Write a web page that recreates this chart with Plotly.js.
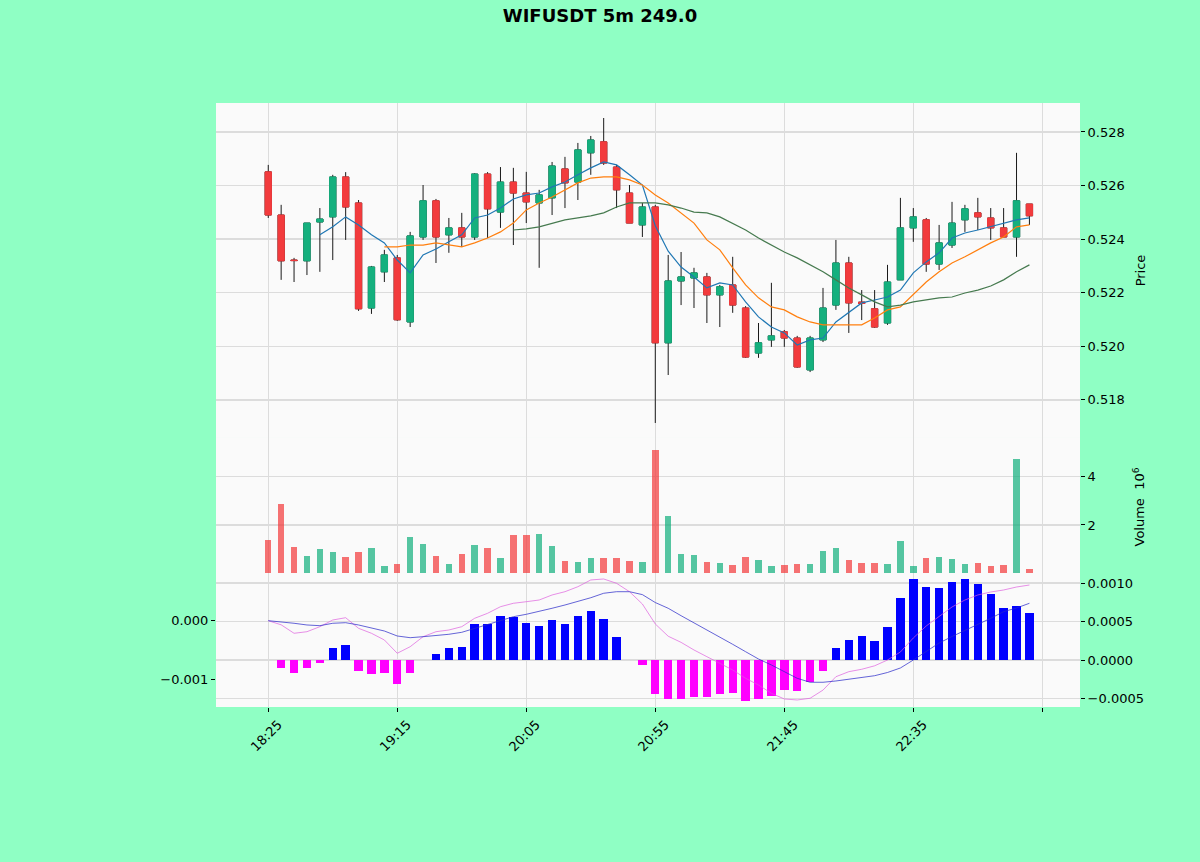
<!DOCTYPE html>
<html><head><meta charset="utf-8">
<script src="https://cdn.plot.ly/plotly-3.0.1.min.js"></script>
<style>html,body{margin:0;padding:0;background:#8fffc4;}</style>
</head><body>
<div id="chart" style="width:1200px;height:862px;"></div>
<script>
const times = ["18:25","18:30","18:35","18:40","18:45","18:50","18:55","19:00","19:05","19:10",
"19:15","19:20","19:25","19:30","19:35","19:40","19:45","19:50","19:55","20:00",
"20:05","20:10","20:15","20:20","20:25","20:30","20:35","20:40","20:45","20:50",
"20:55","21:00","21:05","21:10","21:15","21:20","21:25","21:30","21:35","21:40",
"21:45","21:50","21:55","22:00","22:05","22:10","22:15","22:20","22:25","22:30",
"22:35","22:40","22:45","22:50","22:55","23:00","23:05","23:10","23:15","23:20"];
const tickLabels = ["18:25","19:15","20:05","20:55","21:45","22:35"];

const opens = [0.52651,0.52490,0.52322,0.52319,0.52464,0.52483,0.52632,0.52535,0.52143,0.52278,
0.52330,0.52091,0.52408,0.52543,0.52416,0.52442,0.52408,0.52643,0.52501,0.52613,
0.52572,0.52535,0.52554,0.52662,0.52613,0.52722,0.52763,0.52669,0.52572,0.52453,
0.52520,0.52013,0.52244,0.52255,0.52259,0.52192,0.52229,0.52143,0.51975,0.52024,
0.52054,0.52031,0.51912,0.52024,0.52154,0.52311,0.52165,0.52140,0.52087,0.52248,
0.52442,0.52472,0.52307,0.52378,0.52472,0.52498,0.52479,0.52442,0.52408,0.52531];
const highs = [0.52677,0.52528,0.52330,0.52460,0.52516,0.52640,0.52650,0.52546,0.52300,0.52360,
0.52341,0.52427,0.52602,0.52550,0.52479,0.52498,0.52646,0.52650,0.52669,0.52666,
0.52651,0.52584,0.52688,0.52707,0.52759,0.52785,0.52852,0.52677,0.52602,0.52535,
0.52528,0.52341,0.52352,0.52293,0.52274,0.52229,0.52334,0.52150,0.52087,0.52237,
0.52061,0.52039,0.52039,0.52218,0.52397,0.52334,0.52210,0.52210,0.52304,0.52554,
0.52516,0.52479,0.52453,0.52539,0.52528,0.52554,0.52516,0.52516,0.52722,0.52531];
const lows = [0.52479,0.52248,0.52240,0.52266,0.52278,0.52322,0.52397,0.52132,0.52121,0.52240,
0.52095,0.52072,0.52397,0.52311,0.52349,0.52371,0.52397,0.52404,0.52442,0.52378,
0.52460,0.52293,0.52490,0.52516,0.52546,0.52640,0.52677,0.52516,0.52460,0.52408,
0.51714,0.51893,0.52154,0.52143,0.52087,0.52072,0.52125,0.51957,0.51957,0.51998,
0.51998,0.51920,0.51904,0.52016,0.52136,0.52050,0.52098,0.52069,0.52080,0.52248,
0.52390,0.52278,0.52285,0.52367,0.52427,0.52434,0.52397,0.52408,0.52334,0.52453];
const closes = [0.52490,0.52319,0.52320,0.52460,0.52475,0.52632,0.52520,0.52140,0.52296,0.52341,
0.52099,0.52412,0.52543,0.52408,0.52442,0.52408,0.52643,0.52513,0.52613,0.52572,
0.52539,0.52565,0.52673,0.52610,0.52733,0.52770,0.52684,0.52584,0.52460,0.52520,
0.52013,0.52244,0.52259,0.52274,0.52192,0.52222,0.52154,0.51960,0.52013,0.52039,
0.52031,0.51923,0.52031,0.52143,0.52311,0.52162,0.52160,0.52072,0.52240,0.52442,
0.52483,0.52307,0.52386,0.52460,0.52513,0.52483,0.52442,0.52408,0.52543,0.52487];
const volumes = [1380000,2870000,1100000,720000,1010000,880000,660000,880000,1030000,300000,
370000,1490000,1200000,720000,370000,800000,1170000,1030000,620000,1590000,
1600000,1640000,1130000,500000,450000,620000,620000,620000,520000,480000,
5100000,2370000,800000,760000,480000,440000,340000,660000,550000,320000,
340000,380000,380000,920000,1030000,550000,440000,440000,380000,1340000,
320000,620000,660000,590000,380000,440000,300000,340000,4730000,190000];

const mav5 = [null,null,null,null,0.52416,0.52446,0.52483,0.52453,0.52416,0.52386,
0.52322,0.52274,0.52341,0.52363,0.52390,0.52416,0.52479,0.52490,0.52516,0.52550,
0.52565,0.52572,0.52595,0.52613,0.52640,0.52666,0.52688,0.52677,0.52640,0.52602,
0.52450,0.52355,0.52296,0.52259,0.52218,0.52237,0.52229,0.52166,0.52110,0.52072,
0.52050,0.52005,0.52024,0.52031,0.52091,0.52125,0.52162,0.52173,0.52184,0.52210,
0.52274,0.52315,0.52349,0.52404,0.52423,0.52434,0.52446,0.52460,0.52472,0.52479];
const mav10 = [null,null,null,null,null,null,null,null,null,0.52371,
0.52371,0.52378,0.52378,0.52386,0.52378,0.52371,0.52386,0.52404,0.52427,0.52460,
0.52509,0.52535,0.52557,0.52584,0.52610,0.52628,0.52632,0.52632,0.52621,0.52602,
0.52565,0.52535,0.52498,0.52460,0.52397,0.52360,0.52293,0.52229,0.52181,0.52147,
0.52136,0.52110,0.52091,0.52080,0.52080,0.52080,0.52080,0.52106,0.52136,0.52147,
0.52192,0.52240,0.52278,0.52311,0.52334,0.52360,0.52386,0.52408,0.52446,0.52453];
const mav20 = [null,null,null,null,null,null,null,null,null,null,
null,null,null,null,null,null,null,null,null,0.52434,
0.52438,0.52446,0.52460,0.52472,0.52479,0.52487,0.52498,0.52520,0.52535,0.52535,
0.52535,0.52528,0.52516,0.52501,0.52498,0.52483,0.52460,0.52434,0.52404,0.52378,
0.52352,0.52330,0.52304,0.52278,0.52248,0.52218,0.52192,0.52166,0.52147,0.52154,
0.52166,0.52173,0.52181,0.52184,0.52199,0.52210,0.52225,0.52248,0.52278,0.52304];

const macdLine = [0,-0.70e-4,-2.15e-4,-1.88e-4,-1.02e-4,0.12e-4,0.51e-4,-1.30e-4,-2.15e-4,-3.29e-4,
-5.56e-4,-4.44e-4,-2.73e-4,-1.88e-4,-1.59e-4,-1.02e-4,0.41e-4,1.26e-4,2.39e-4,2.97e-4,
3.24e-4,3.53e-4,4.39e-4,4.95e-4,5.80e-4,6.95e-4,7.12e-4,6.38e-4,4.95e-4,2.85e-4,
-0.56e-4,-2.65e-4,-3.70e-4,-5.00e-4,-6.14e-4,-7.27e-4,-8.41e-4,-9.83e-4,-10.97e-4,-12.39e-4,
-13.36e-4,-13.53e-4,-13.24e-4,-11.84e-4,-9.56e-4,-8.70e-4,-8.29e-4,-7.70e-4,-6.71e-4,-5.34e-4,
-2.95e-4,-0.90e-4,0.80e-4,2.34e-4,3.53e-4,4.39e-4,4.90e-4,5.24e-4,5.75e-4,6.09e-4];
const signalLine = [0,-0.17e-4,-0.44e-4,-0.73e-4,-0.85e-4,-0.44e-4,-0.34e-4,-0.73e-4,-1.19e-4,-1.76e-4,
-2.61e-4,-2.90e-4,-2.73e-4,-2.56e-4,-2.32e-4,-1.98e-4,-1.30e-4,-0.61e-4,0.12e-4,0.68e-4,
1.09e-4,1.54e-4,2.12e-4,2.68e-4,3.24e-4,3.92e-4,4.68e-4,4.95e-4,4.95e-4,4.45e-4,
3.10e-4,2.12e-4,0.85e-4,-0.34e-4,-1.59e-4,-2.83e-4,-4.03e-4,-5.29e-4,-6.54e-4,-7.56e-4,
-8.70e-4,-9.83e-4,-10.51e-4,-10.51e-4,-10.29e-4,-10.00e-4,-9.73e-4,-9.39e-4,-8.84e-4,-8.07e-4,
-6.71e-4,-5.29e-4,-3.81e-4,-2.70e-4,-1.67e-4,-0.73e-4,0.41e-4,1.54e-4,2.17e-4,2.97e-4];
const histogram = [0,-1.00e-4,-1.65e-4,-1.00e-4,-0.43e-4,1.52e-4,1.95e-4,-1.39e-4,-1.86e-4,-1.73e-4,
-3.07e-4,-1.65e-4,-0.05e-4,0.78e-4,1.52e-4,1.69e-4,4.63e-4,4.63e-4,5.71e-4,5.54e-4,
4.76e-4,4.42e-4,5.19e-4,4.68e-4,5.71e-4,6.36e-4,5.37e-4,2.99e-4,-0.05e-4,-0.65e-4,
-4.42e-4,-5.06e-4,-5.10e-4,-4.85e-4,-4.76e-4,-4.42e-4,-4.33e-4,-5.32e-4,-5.10e-4,-4.63e-4,
-3.90e-4,-3.98e-4,-2.90e-4,-1.39e-4,1.60e-4,2.60e-4,3.12e-4,2.51e-4,4.33e-4,8.10e-4,
10.50e-4,9.52e-4,9.39e-4,10.09e-4,10.50e-4,9.87e-4,8.57e-4,6.79e-4,7.05e-4,6.14e-4];

const UP = '#15b07e', DOWN = '#f23b3d';
const VUP = 'rgba(21,176,126,0.72)', VDOWN = 'rgba(242,59,61,0.72)';
const idx = times.map((t, i) => i);
const bodyHigh = opens.map((o, i) => Math.max(o, closes[i]));
const bodyLow = opens.map((o, i) => Math.min(o, closes[i]));

const traces = [
  {type:'candlestick', x:idx, open:opens, high:highs, low:lows, close:closes, xaxis:'x', yaxis:'y',
   increasing:{line:{color:'#1a1a1a', width:1}, fillcolor:UP},
   decreasing:{line:{color:'#1a1a1a', width:1}, fillcolor:DOWN}, whiskerwidth:0, hoverinfo:'skip', showlegend:false},
  {type:'candlestick', x:idx, open:opens, high:bodyHigh, low:bodyLow, close:closes, xaxis:'x', yaxis:'y',
   increasing:{line:{color:UP, width:1}, fillcolor:UP},
   decreasing:{line:{color:DOWN, width:1}, fillcolor:DOWN}, whiskerwidth:0, hoverinfo:'skip', showlegend:false},
  {type:'scatter', mode:'lines', x:idx, y:mav5, xaxis:'x', yaxis:'y', line:{color:'#1f77b4', width:1.2}, showlegend:false},
  {type:'scatter', mode:'lines', x:idx, y:mav10, xaxis:'x', yaxis:'y', line:{color:'#ff7f0e', width:1.2}, showlegend:false},
  {type:'scatter', mode:'lines', x:idx, y:mav20, xaxis:'x', yaxis:'y', line:{color:'#467a4f', width:1.2}, showlegend:false},
  {type:'bar', x:idx, y:volumes, xaxis:'x2', yaxis:'y2', width:0.5,
   marker:{color:closes.map((c, i) => c >= opens[i] ? VUP : VDOWN), line:{width:0}}, showlegend:false},
  {type:'bar', x:idx, y:histogram, xaxis:'x3', yaxis:'y3', width:0.65,
   marker:{color:histogram.map(v => v >= 0 ? '#0000ff' : '#ff00ff'), line:{width:0}}, showlegend:false},
  {type:'scatter', mode:'lines', x:idx, y:macdLine, xaxis:'x3', yaxis:'y4', line:{color:'rgba(220,90,220,0.75)', width:0.9}, showlegend:false},
  {type:'scatter', mode:'lines', x:idx, y:signalLine, xaxis:'x3', yaxis:'y4', line:{color:'rgba(40,40,200,0.8)', width:0.9}, showlegend:false}
];

const GRID = '#dcdcdc';
const FONT = {family:'DejaVu Sans, sans-serif', size:13, color:'#000'};
const xr = [-4.05, 62.92];
const xbase = {range:xr, tickvals:[0,10,20,30,40,50], ticktext:tickLabels, showgrid:true, gridcolor:GRID, gridwidth:1.5,
  zeroline:false, showline:false, rangeslider:{visible:false}, fixedrange:true,
  minor:{tickvals:[60], showgrid:true, gridcolor:GRID, gridwidth:1.5, ticks:''}};

const layout = {
  width:1200, height:862,
  paper_bgcolor:'#8fffc4', plot_bgcolor:'#fafafa',
  font:FONT,
  margin:{l:216, r:120, t:103, b:155},
  title:{text:'<b>WIFUSDT 5m 249.0</b>', x:0.5, xref:'container', y:1-16/862, yref:'container', yanchor:'middle',
    font:{family:'DejaVu Sans, sans-serif', size:18, color:'#000'}},
  showlegend:false,
  bargap:0,
  xaxis:Object.assign({}, xbase, {anchor:'y', showticklabels:false, ticks:''}),
  xaxis2:Object.assign({}, xbase, {anchor:'y2', matches:'x', showticklabels:false, ticks:''}),
  xaxis3:Object.assign({}, xbase, {anchor:'y3', matches:'x', showticklabels:true, ticks:'outside', ticklen:4, tickcolor:'#000',
    tickangle:-45, ticklabelshift:10,
    minor:{tickvals:[60], showgrid:true, gridcolor:GRID, gridwidth:1.5, ticks:'outside', ticklen:4, tickcolor:'#000'}}),
  yaxis:{domain:[0.4454,1], anchor:'x', side:'right', range:[0.51658,0.52908],
    tickvals:[0.518,0.520,0.522,0.524,0.526,0.528], tickformat:'.3f', ticks:'outside', ticklen:4, tickcolor:'#000',
    showgrid:true, gridcolor:GRID, gridwidth:1.5, zeroline:false, showline:false,
    title:{text:'Price', standoff:12, font:FONT}},
  yaxis2:{domain:[0.2169,0.4454], anchor:'x2', side:'right', range:[-110000,5600000],
    tickvals:[2000000,4000000], ticktext:['2','4'], ticks:'outside', ticklen:4, tickcolor:'#000',
    showgrid:true, gridcolor:GRID, gridwidth:1.5, zeroline:false, showline:false,
    title:{text:'Volume  10<sup>6</sup>', standoff:40, font:FONT}},
  yaxis3:{domain:[0,0.2169], anchor:'x3', side:'right', range:[-0.00061,0.001091],
    tickvals:[-0.0005,0,0.0005,0.001], tickformat:'.4f', ticks:'outside', ticklen:4, tickcolor:'#000',
    showgrid:true, gridcolor:GRID, gridwidth:1.5, zeroline:false, showline:false},
  yaxis4:{overlaying:'y3', anchor:'x3', side:'left', range:[-0.001473,0.000763],
    tickvals:[-0.001,0], tickformat:'.3f', ticks:'outside', ticklen:4, tickcolor:'#000',
    showgrid:false, zeroline:false, showline:false}
};

Plotly.newPlot('chart', traces, layout, {displayModeBar:false, staticPlot:true});
</script>
</body></html>
